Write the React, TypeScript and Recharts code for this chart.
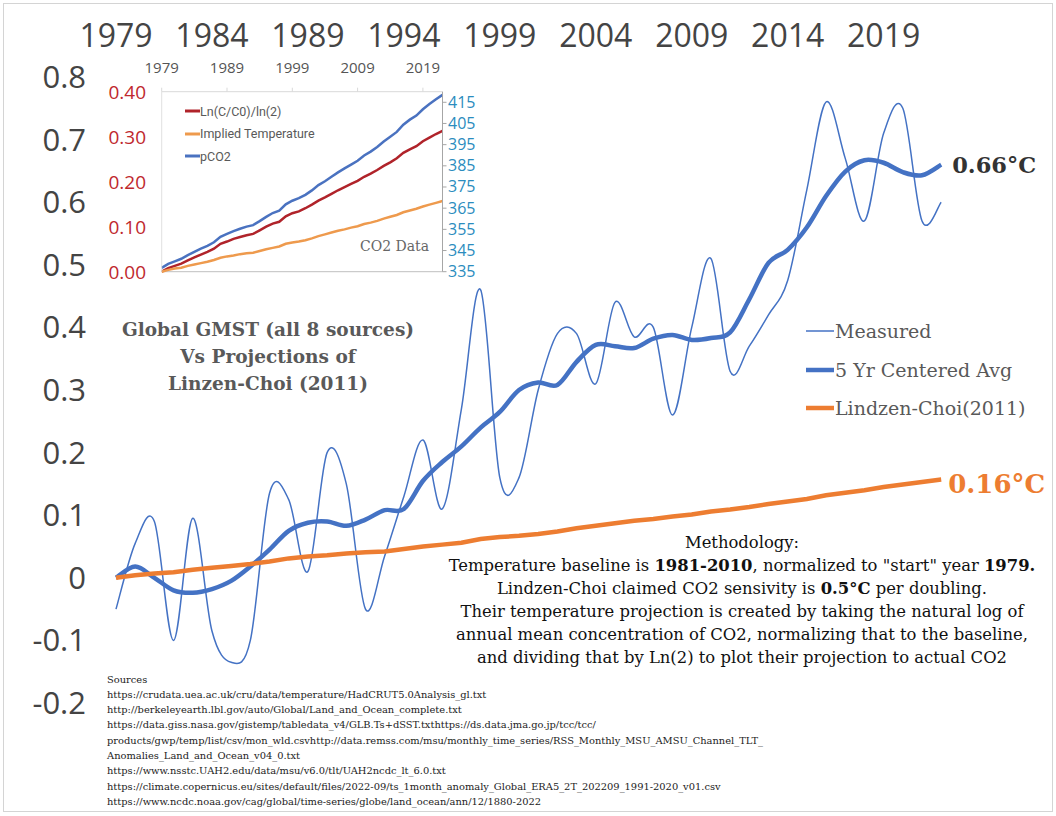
import React from "react";
import { LineChart, Line, XAxis, YAxis, Legend, ReferenceLine } from "recharts";

// ---------- DATA ----------
const years = [
  1979, 1980, 1981, 1982, 1983, 1984, 1985, 1986, 1987, 1988, 1989, 1990, 1991, 1992, 1993,
  1994, 1995, 1996, 1997, 1998, 1999, 2000, 2001, 2002, 2003, 2004, 2005, 2006, 2007, 2008,
  2009, 2010, 2011, 2012, 2013, 2014, 2015, 2016, 2017, 2018, 2019, 2020, 2021, 2022,
];

const measured = [
  -0.05, 0.055, 0.09, -0.1, 0.095, -0.085, -0.135, -0.1, 0.135, 0.125, 0.01, 0.2, 0.15, -0.05, 0.035,
  0.13, 0.22, 0.11, 0.27, 0.46, 0.16, 0.16, 0.3, 0.39, 0.39, 0.31, 0.44, 0.385, 0.4, 0.26,
  0.4, 0.51, 0.33, 0.37, 0.42, 0.475, 0.62, 0.76, 0.67, 0.57, 0.71, 0.75, 0.57, 0.6,
];

const avg5 = [
  0.0, 0.018, 0.0, -0.02, -0.024, -0.018, -0.005, 0.018, 0.045, 0.075, 0.088, 0.09, 0.083, 0.093, 0.108,
  0.11, 0.155, 0.185, 0.21, 0.24, 0.265, 0.3, 0.312, 0.308, 0.345, 0.372, 0.37, 0.367, 0.382, 0.388,
  0.38, 0.383, 0.392, 0.445, 0.503, 0.524, 0.56, 0.61, 0.649, 0.667, 0.663, 0.648, 0.643, 0.66,
];

const lindzenChoi = [
  0, 0.004, 0.007, 0.009, 0.013, 0.016, 0.019, 0.022, 0.026, 0.031, 0.034, 0.036, 0.039, 0.041, 0.042,
  0.046, 0.05, 0.053, 0.056, 0.062, 0.065, 0.067, 0.07, 0.074, 0.079, 0.083, 0.087, 0.091, 0.094, 0.098,
  0.101, 0.106, 0.109, 0.113, 0.118, 0.122, 0.126, 0.132, 0.136, 0.14, 0.145, 0.149, 0.153, 0.157,
];

// inset (CO2 data)
const lnRatio = [
  0, 0.008, 0.013, 0.018, 0.025, 0.032, 0.038, 0.044, 0.051, 0.062, 0.067, 0.073, 0.077, 0.081, 0.084,
  0.092, 0.1, 0.107, 0.111, 0.123, 0.13, 0.134, 0.141, 0.149, 0.158, 0.165, 0.173, 0.181, 0.188, 0.195,
  0.202, 0.211, 0.218, 0.226, 0.235, 0.243, 0.252, 0.264, 0.272, 0.279, 0.29, 0.298, 0.306, 0.313,
];
const impliedTemp = [
  0, 0.004, 0.007, 0.009, 0.013, 0.016, 0.019, 0.022, 0.026, 0.031, 0.034, 0.036, 0.039, 0.041, 0.042,
  0.046, 0.05, 0.053, 0.056, 0.062, 0.065, 0.067, 0.07, 0.074, 0.079, 0.083, 0.087, 0.091, 0.094, 0.098,
  0.101, 0.106, 0.109, 0.113, 0.118, 0.122, 0.126, 0.132, 0.136, 0.14, 0.145, 0.149, 0.153, 0.157,
];
const pco2 = [
  336.8, 338.7, 339.9, 341.1, 342.8, 344.4, 345.9, 347.2, 348.9, 351.5, 352.9, 354.2, 355.3, 356.3, 357.0,
  358.9, 360.9, 362.7, 363.8, 366.8, 368.5, 369.7, 371.3, 373.4, 375.9, 377.7, 379.8, 381.9, 383.8, 385.6,
  387.4, 389.9, 391.7, 393.9, 396.5, 398.7, 401.0, 404.4, 406.8, 408.7, 411.7, 414.2, 416.4, 418.5,
];

const mainXTicks = [1979, 1984, 1989, 1994, 1999, 2004, 2009, 2014, 2019];
const mainYTicks = [-0.2, -0.1, 0, 0.1, 0.2, 0.3, 0.4, 0.5, 0.6, 0.7, 0.8];
const insetXTicks = [1979, 1989, 1999, 2009, 2019];
const insetLeftTicks = [0, 0.1, 0.2, 0.3, 0.4];
const insetRightTicks = [335, 345, 355, 365, 375, 385, 395, 405, 415];

const sources = [
  "Sources",
  "https://crudata.uea.ac.uk/cru/data/temperature/HadCRUT5.0Analysis_gl.txt",
  "http://berkeleyearth.lbl.gov/auto/Global/Land_and_Ocean_complete.txt",
  "https://data.giss.nasa.gov/gistemp/tabledata_v4/GLB.Ts+dSST.txthttps://ds.data.jma.go.jp/tcc/tcc/",
  "products/gwp/temp/list/csv/mon_wld.csvhttp://data.remss.com/msu/monthly_time_series/RSS_Monthly_MSU_AMSU_Channel_TLT_",
  "Anomalies_Land_and_Ocean_v04_0.txt",
  "https://www.nsstc.UAH2.edu/data/msu/v6.0/tlt/UAH2ncdc_lt_6.0.txt",
  "https://climate.copernicus.eu/sites/default/files/2022-09/ts_1month_anomaly_Global_ERA5_2T_202209_1991-2020_v01.csv",
  "https://www.ncdc.noaa.gov/cag/global/time-series/globe/land_ocean/ann/12/1880-2022",
];

const mainData = years.map((year, i) => ({
  year,
  measured: measured[i],
  avg5: avg5[i],
  lc: lindzenChoi[i],
}));
const insetData = years.map((year, i) => ({
  year,
  ln: lnRatio[i],
  implied: impliedTemp[i],
  co2: pco2[i],
}));

// ---------- STYLE ----------
const BLUE = "#4472c4";
const ORANGE = "#ed7d31";
const SERIF = "'DejaVu Serif', serif";
const SANS = "'Open Sans', sans-serif";

const mainOrder = ["measured", "avg5", "lc"];
const insetOrder = ["ln", "implied", "co2"];

// Catmull-Rom style smoothing (like spreadsheet "smoothed line")
const smoothCurve: any = (context: any) => {
  let pts: number[][] = [];
  return {
    areaStart() {},
    areaEnd() {},
    lineStart() {
      pts = [];
    },
    lineEnd() {
      const n = pts.length;
      if (!n) return;
      context.moveTo(pts[0][0], pts[0][1]);
      for (let i = 0; i < n - 1; i++) {
        const p0 = pts[Math.max(i - 1, 0)];
        const p1 = pts[i];
        const p2 = pts[i + 1];
        const p3 = pts[Math.min(i + 2, n - 1)];
        context.bezierCurveTo(
          p1[0] + (p2[0] - p0[0]) / 6,
          p1[1] + (p2[1] - p0[1]) / 6,
          p2[0] - (p3[0] - p1[0]) / 6,
          p2[1] - (p3[1] - p1[1]) / 6,
          p2[0],
          p2[1]
        );
      }
    },
    point(x: number, y: number) {
      pts.push([+x, +y]);
    },
  };
};

const mainWidths: Record<string, number> = { measured: 1.5, avg5: 4.5, lc: 4.5 };

const sortBy = (order: string[]) => (payload: any[]) =>
  [...(payload || [])].sort((a, b) => order.indexOf(a.dataKey) - order.indexOf(b.dataKey));

const MainLegend = (props: any) => (
  <div>
    {sortBy(mainOrder)(props.payload).map((e: any) => (
      <div key={e.dataKey} style={{ display: "flex", alignItems: "center", height: 38.5 }}>
        <svg width={28} height={8} style={{ display: "block" }}>
          <line x1={0} y1={4} x2={28} y2={4} stroke={e.color} strokeWidth={mainWidths[e.dataKey] || 2} />
        </svg>
        <span style={{ fontFamily: SERIF, fontSize: 19, color: "#595959", marginLeft: 1, whiteSpace: "nowrap" }}>
          {e.value}
        </span>
      </div>
    ))}
  </div>
);

const InsetLegend = (props: any) => (
  <div>
    {sortBy(insetOrder)(props.payload).map((e: any) => (
      <div key={e.dataKey} style={{ display: "flex", alignItems: "center", height: 22.5 }}>
        <svg width={15} height={6} style={{ display: "block" }}>
          <line x1={0} y1={3} x2={15} y2={3} stroke={e.color} strokeWidth={3} />
        </svg>
        <span style={{ fontFamily: "Roboto, sans-serif", fontSize: 12.5, color: "#595959", whiteSpace: "nowrap" }}>
          {e.value}
        </span>
      </div>
    ))}
  </div>
);

const lastIdx = years.length - 1;

const avgEndLabel = (p: any) =>
  p.index === lastIdx ? (
    <text x={p.x + 11} y={p.y} dy={8} fontFamily={SERIF} fontWeight="bold" fontSize={22.5} fill="#333">
      {Number(p.value).toFixed(2)}°C
    </text>
  ) : (
    <g />
  );

const lcEndLabel = (p: any) =>
  p.index === lastIdx ? (
    <text x={p.x + 7} y={p.y + 4} dy={9.5} fontFamily={SERIF} fontWeight="bold" fontSize={26} fill={ORANGE}>
      {Number(p.value).toFixed(2)}°C
    </text>
  ) : (
    <g />
  );

const MainTopTick = (p: any) => (
  <text x={p.x} y={47} textAnchor="middle" fontFamily={SANS} fontSize={32} fill="#444">
    {p.payload.value}
  </text>
);

const MainYTick = (p: any) => (
  <text x={86} y={p.y} dy={11} textAnchor="end" fontFamily={SANS} fontSize={31} fill="#444">
    {p.payload.value === 0 ? "0" : String(p.payload.value)}
  </text>
);

const InsetTopTick = (p: any) => (
  <text x={p.x} y={22.5} textAnchor="middle" fontFamily={SANS} fontSize={15} fill="#555">
    {p.payload.value}
  </text>
);
const InsetLeftTick = (p: any) => (
  <text x={46} y={p.y} dy={7} textAnchor="end" fontFamily={SANS} fontSize={19} fill="#c0282d">
    {Number(p.payload.value).toFixed(2)}
  </text>
);
const InsetRightTick = (p: any) => (
  <text x={348} y={p.y} dy={5.5} textAnchor="start" fontFamily={SANS} fontSize={16} fill="#2b8cbe">
    {p.payload.value}
  </text>
);

export default function App() {
  return (
    <div
      style={{
        position: "absolute",
        left: 0,
        top: 0,
        width: 1056,
        height: 816,
        background: "#fff",
        overflow: "hidden",
      }}
    >
      <div
        style={{
          position: "absolute",
          left: 3,
          top: 3,
          width: 1048,
          height: 807,
          border: "1px solid #d4d4d4",
        }}
      />

      {/* main chart */}
      <div style={{ position: "absolute", left: 0, top: 0 }}>
        <LineChart width={1056} height={816} data={mainData} margin={{ top: 27, right: 114.8, bottom: 113, left: 0 }}>
          <XAxis
            dataKey="year"
            type="number"
            domain={[1979, 2022]}
            orientation="top"
            ticks={mainXTicks}
            interval={0}
            height={50}
            axisLine={false}
            tickLine={false}
            tick={MainTopTick}
          />
          <YAxis
            type="number"
            domain={[-0.2, 0.8]}
            ticks={mainYTicks}
            interval={0}
            width={116}
            axisLine={false}
            tickLine={false}
            tick={MainYTick}
          />
          <Line
            dataKey="measured"
            name="Measured"
            type={smoothCurve}
            stroke={BLUE}
            strokeWidth={1.5}
            dot={false}
            isAnimationActive={false}
          />
          <Line
            dataKey="avg5"
            name="5 Yr Centered Avg"
            type={smoothCurve}
            stroke={BLUE}
            strokeWidth={4.5}
            dot={false}
            isAnimationActive={false}
            label={avgEndLabel}
          />
          <Line
            dataKey="lc"
            name="Lindzen-Choi(2011)"
            type="linear"
            stroke={ORANGE}
            strokeWidth={4.5}
            dot={false}
            isAnimationActive={false}
            label={lcEndLabel}
          />
          <Legend
            layout="horizontal"
            verticalAlign="middle"
            align="center"
            content={MainLegend}
            wrapperStyle={{ left: 806, top: 311.75, width: 245, height: 116 }}
          />
        </LineChart>
      </div>

      {/* inset chart */}
      <div style={{ position: "absolute", left: 100, top: 50 }}>
        <LineChart width={380} height={240} data={insetData} margin={{ top: 0, right: 0, bottom: 18.3, left: 0 }}>
          <XAxis
            dataKey="year"
            type="number"
            domain={[1979, 2022]}
            orientation="top"
            ticks={insetXTicks}
            interval={0}
            height={41.7}
            axisLine={{ stroke: "#d9d9d9" }}
            tickLine={{ stroke: "#d9d9d9" }}
            tickSize={4}
            tick={InsetTopTick}
          />
          <YAxis
            yAxisId="left"
            type="number"
            domain={[0, 0.4]}
            ticks={insetLeftTicks}
            interval={0}
            width={61.7}
            axisLine={{ stroke: "#e0e0e0" }}
            tickLine={false}
            tick={InsetLeftTick}
          />
          <YAxis
            yAxisId="right"
            orientation="right"
            type="number"
            domain={[335, 420]}
            ticks={insetRightTicks}
            interval={0}
            width={37.5}
            axisLine={{ stroke: "#a6a6a6" }}
            tickLine={{ stroke: "#a6a6a6" }}
            tickSize={4}
            tick={InsetRightTick}
          />
          <ReferenceLine yAxisId="left" y={0} stroke="#bfbfbf" />
          <Line
            yAxisId="left"
            dataKey="ln"
            name="Ln(C/C0)/ln(2)"
            type="linear"
            stroke="#b0232a"
            strokeWidth={2.5}
            dot={false}
            isAnimationActive={false}
          />
          <Line
            yAxisId="left"
            dataKey="implied"
            name="Implied Temperature"
            type="linear"
            stroke="#ee9a4d"
            strokeWidth={2.5}
            dot={false}
            isAnimationActive={false}
          />
          <Line
            yAxisId="right"
            dataKey="co2"
            name="pCO2"
            type="linear"
            stroke="#4a72c0"
            strokeWidth={2.5}
            dot={false}
            isAnimationActive={false}
          />
          <Legend
            layout="horizontal"
            verticalAlign="middle"
            align="center"
            content={InsetLegend}
            wrapperStyle={{ left: 85, top: 49.75, width: 180, height: 70 }}
          />
        </LineChart>
      </div>

      <div
        style={{
          position: "absolute",
          left: 360,
          top: 237,
          fontFamily: SERIF,
          fontSize: 14,
          lineHeight: "18px",
          color: "#666",
          whiteSpace: "nowrap",
        }}
      >
        CO2 Data
      </div>

      {/* title */}
      <div
        style={{
          position: "absolute",
          left: 68,
          top: 315.5,
          width: 400,
          textAlign: "center",
          fontFamily: SERIF,
          fontWeight: "bold",
          fontSize: 18.5,
          lineHeight: "27px",
          color: "#595959",
          whiteSpace: "nowrap",
        }}
      >
        <div>Global GMST (all 8 sources)</div>
        <div>Vs Projections of</div>
        <div>Linzen-Choi (2011)</div>
      </div>

      {/* methodology */}
      <div
        style={{
          position: "absolute",
          left: 392,
          top: 530.5,
          width: 700,
          textAlign: "center",
          fontFamily: SERIF,
          fontSize: 16.4,
          lineHeight: "23px",
          color: "#111",
          whiteSpace: "nowrap",
        }}
      >
        <div>Methodology:</div>
        <div>
          Temperature baseline is <b>1981-2010</b>, normalized to "start" year <b>1979.</b>
        </div>
        <div>
          Lindzen-Choi claimed CO2 sensivity is <b>0.5°C</b> per doubling.
        </div>
        <div>Their temperature projection is created by taking the natural log of</div>
        <div>annual mean concentration of CO2, normalizing that to the baseline,</div>
        <div>and dividing that by Ln(2) to plot their projection to actual CO2</div>
      </div>

      {/* sources */}
      <div
        style={{
          position: "absolute",
          left: 107,
          top: 671.5,
          fontFamily: SERIF,
          fontSize: 9.9,
          lineHeight: "15.3px",
          color: "#222",
          whiteSpace: "pre",
        }}
      >
        {sources.map((s, i) => (
          <div key={i}>{s}</div>
        ))}
      </div>
    </div>
  );
}
